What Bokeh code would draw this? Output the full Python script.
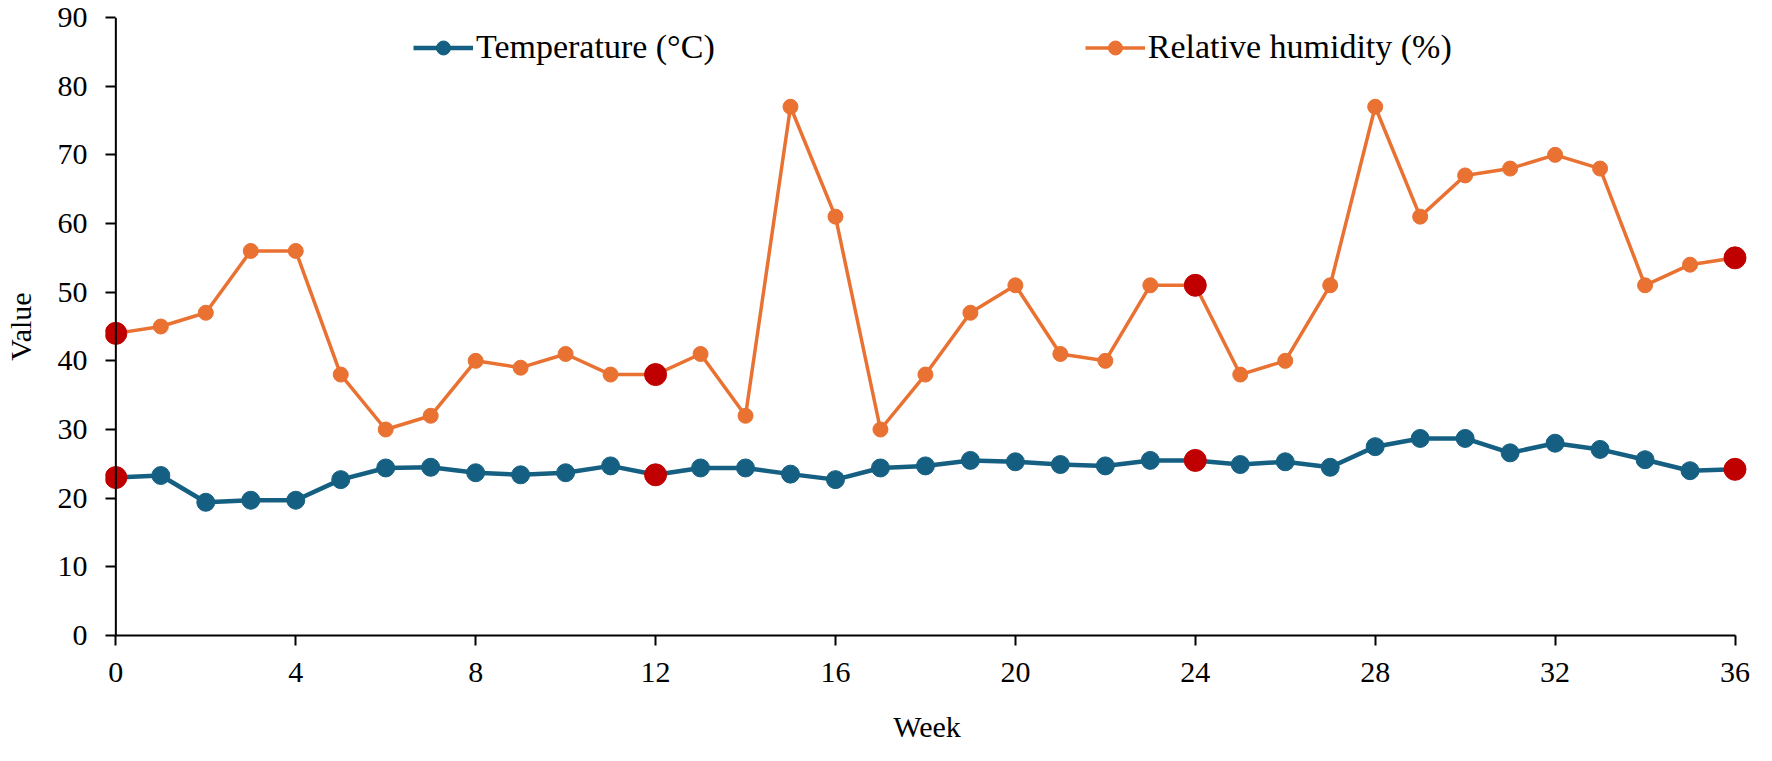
from bokeh.plotting import figure
from bokeh.models import Range1d, Legend, LegendItem, FixedTicker, ColumnDataSource, Span
from bokeh.embed import file_html
from bokeh.resources import INLINE

weeks = list(range(37))
temperature = [23.0, 23.3, 19.4, 19.7, 19.7, 22.7, 24.4, 24.5, 23.7, 23.4,
               23.7, 24.7, 23.4, 24.4, 24.4, 23.5, 22.7, 24.4, 24.7, 25.5,
               25.3, 24.9, 24.7, 25.5, 25.5, 24.9, 25.3, 24.5, 27.5, 28.7,
               28.7, 26.6, 28.0, 27.1, 25.6, 24.0, 24.2]
humidity = [44, 45, 47, 56, 56, 38, 30, 32, 40, 39,
            41, 38, 38, 41, 32, 77, 61, 30, 38, 47,
            51, 41, 40, 51, 51, 38, 40, 51, 77, 61,
            67, 68, 70, 68, 51, 54, 55]
highlight_weeks = [0, 12, 24, 36]
x_ticks = [0, 4, 8, 12, 16, 20, 24, 28, 32, 36]
y_ticks = [0, 10, 20, 30, 40, 50, 60, 70, 80, 90]

TEMP_COLOR = "#156082"
HUM_COLOR = "#E97132"
RED = "#C00000"
FONT = "Liberation Serif"

src = ColumnDataSource(dict(week=weeks, temp=temperature, hum=humidity))
hsrc = ColumnDataSource(dict(
    week=highlight_weeks,
    temp=[temperature[weeks.index(w)] for w in highlight_weeks],
    hum=[humidity[weeks.index(w)] for w in highlight_weeks],
))

p = figure(width=1756, height=745, output_backend="svg", toolbar_location=None,
           x_range=Range1d(-0.23, 36.3), y_range=Range1d(0, 90),
           min_border_left=101, min_border_right=8, min_border_top=17,
           min_border_bottom=110)
p.outline_line_color = None
p.xgrid.visible = False
p.ygrid.visible = False

t_line = p.line("week", "temp", source=src, line_color=TEMP_COLOR, line_width=4.5)
t_pts = p.scatter("week", "temp", source=src, size=18, fill_color=TEMP_COLOR,
                  line_color=TEMP_COLOR)
h_line = p.line("week", "hum", source=src, line_color=HUM_COLOR, line_width=3.5)
h_pts = p.scatter("week", "hum", source=src, size=15, fill_color=HUM_COLOR,
                  line_color=HUM_COLOR)
p.scatter("week", "hum", source=hsrc, size=22, fill_color=RED, line_color=RED)
p.scatter("week", "temp", source=hsrc, size=22, fill_color=RED, line_color=RED)

for ax in (p.xaxis[0], p.yaxis[0]):
    ax.axis_line_color = "black"
    ax.axis_line_width = 2
    ax.major_tick_line_color = "black"
    ax.major_tick_line_width = 2
    ax.minor_tick_line_color = None
    ax.major_label_text_font = FONT
    ax.major_label_text_font_size = "30px"
    ax.major_label_text_color = "black"
    ax.axis_label_text_font = FONT
    ax.axis_label_text_font_size = "30px"
    ax.axis_label_text_font_style = "normal"
    ax.axis_label_text_color = "black"

# x axis
xa = p.xaxis[0]
xa.ticker = FixedTicker(ticks=x_ticks)
xa.bounds = (x_ticks[0], x_ticks[-1])
xa.major_tick_out = 10
xa.major_tick_in = 0
xa.major_label_standoff = 17
xa.axis_label = "Week"
xa.axis_label_standoff = 25

# y axis: line drawn at x = 0 by a span; ticks run from frame edge to x = 0
ya = p.yaxis[0]
ya.ticker = FixedTicker(ticks=y_ticks)
ya.axis_line_color = None
ya.major_tick_out = 0
ya.major_tick_in = 10
ya.major_label_standoff = 18
ya.axis_label = "Value"
ya.axis_label_standoff = 18
p.add_layout(Span(location=x_ticks[0], dimension="height", line_color="black",
                  line_width=2))

legend = Legend(items=[
    LegendItem(label="Temperature (°C)", renderers=[t_line, t_pts]),
    LegendItem(label="Relative humidity (%)", renderers=[h_line, h_pts]),
], orientation="horizontal", location=(308, 569), spacing=370,
    glyph_width=60, glyph_height=35, label_standoff=3, padding=0, margin=0,
    border_line_alpha=0, background_fill_alpha=0,
    label_text_font=FONT, label_text_font_size="34px", label_text_color="black")
p.add_layout(legend)

open("out.html", "w").write(file_html(p, INLINE))
